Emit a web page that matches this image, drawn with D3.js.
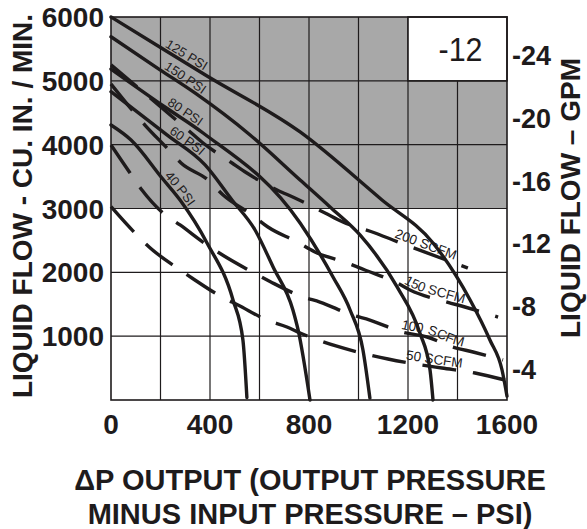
<!DOCTYPE html>
<html><head><meta charset="utf-8">
<script src="https://cdn.jsdelivr.net/npm/d3@7"></script>
<style>
html,body{margin:0;padding:0;background:#fff;}
svg text{font-family:"Liberation Sans",Arial,Helvetica,sans-serif;fill:#1e1b1c;}
</style></head>
<body>
<svg id="chart" width="587" height="529"></svg>
<script>
// ---- data ----
const psiTicks = [0, 400, 800, 1200, 1600];
const flowTicks = [1000, 2000, 3000, 4000, 5000, 6000];
const gpmTicks = [-4, -8, -12, -16, -20, -24];
const psiGrid = [200, 400, 600, 800, 1000, 1200, 1400];
const flowGrid = [1000, 2000, 3000, 4000, 5000];
const shadedFlow = [3000, 6000];
const sizeLabel = "-12";
const boxPsi = [1200, 1600];
const boxFlow = [5000, 6000];

const pressureNames = ["125 PSI", "150 PSI", "80 PSI", "60 PSI", "40 PSI"];
const pressureLabelPsi = [210, 206, 218, 226, 206];
const p125 = [[0,6000],[210,5499],[388,5076],[764,4199],[1095,3133],[1301,2460],[1451,1567],[1531,940],[1580,470],[1600,60]];
const p150 = [[0,5690],[198,5173],[339,4810],[562,4152],[764,3447],[885,3024],[1006,2585],[1156,1771],[1248,1050],[1289,470],[1301,0]];
const p80  = [[0,5185],[218,4590],[372,4183],[764,2773],[897,1927],[966,1410],[1018,783],[1046,30]];
const p60  = [[0,4830],[226,4152],[380,3682],[489,3133],[582,2663],[655,2084],[735,1410],[756,1097],[804,0]];
const p40  = [[0,4308],[81,4073],[206,3478],[279,3133],[388,2460],[493,1567],[533,940],[549,40]];
const pressureSeries = [p125, p150, p80, p60, p40];

const scfmNames = ["200 SCFM", "150 SCFM", "100 SCFM", "50 SCFM"];
const scfmLabelPsi = [1139, 1176, 1168, 1188];
const s200 = [[0,5250],[206,4575],[311,4230],[372,4026],[489,3713],[549,3556],[671,3290],[743,3165],[865,2930],[937,2789],[1067,2616],[1139,2507],[1442,2068]];
const s150 = [[0,4950],[85,4543],[137,4308],[230,3932],[283,3713],[392,3447],[453,3212],[570,2898],[634,2710],[752,2475],[824,2319],[954,2146],[1026,2037],[1156,1833],[1208,1723],[1358,1535],[1430,1457],[1564,1300]];
const s100 = [[0,3995],[77,3556],[125,3290],[210,2930],[279,2742],[388,2428],[457,2256],[578,1990],[646,1849],[776,1614],[844,1535],[974,1332],[1046,1253],[1176,1065],[1277,987],[1382,830],[1463,752],[1584,627]];
const s50  = [[0,3030],[97,2616],[154,2397],[267,2068],[327,1911],[448,1614],[513,1488],[630,1253],[711,1144],[764,1050],[909,846],[1046,705],[1119,642],[1257,548],[1337,501],[1471,423],[1592,313]];
const scfmSeries = [s200, s150, s100, s50];

const leftTitle = "LIQUID FLOW - CU. IN. / MIN.";
const rightTitle = "LIQUID FLOW \u2013 GPM";
const bottomTitle = ["\u0394P OUTPUT (OUTPUT PRESSURE", "MINUS INPUT PRESSURE \u2013 PSI)"];

// ---- layout ----
const svg = d3.select("#chart");
const x = d3.scaleLinear().domain([0, 1600]).range([111, 507]);
const y = d3.scaleLinear().domain([0, 6000]).range([400, 17]);
const yg = d3.scaleLinear().domain([-4, -24]).range([369, 55]);
const ink = "#1e1b1c";

// shaded region
svg.append("rect")
  .attr("x", x(0)).attr("y", y(shadedFlow[1]))
  .attr("width", x(1600) - x(0)).attr("height", y(shadedFlow[0]) - y(shadedFlow[1]))
  .attr("fill", "#a8a8a8");

// grid
const grid = svg.append("g").attr("stroke", ink).attr("stroke-width", 1.2);
grid.selectAll(".v").data(psiGrid).join("line")
  .attr("x1", d => x(d)).attr("x2", d => x(d)).attr("y1", y(0)).attr("y2", y(6000));
grid.selectAll(".h").data(flowGrid).join("line")
  .attr("x1", x(0)).attr("x2", x(1600)).attr("y1", d => y(d)).attr("y2", d => y(d));

// size box
svg.append("rect")
  .attr("x", x(boxPsi[0])).attr("y", y(boxFlow[1]))
  .attr("width", x(boxPsi[1]) - x(boxPsi[0])).attr("height", y(boxFlow[0]) - y(boxFlow[1]))
  .attr("fill", "#fff").attr("stroke", ink).attr("stroke-width", 1.6);
svg.append("text")
  .attr("x", (x(boxPsi[0]) + x(boxPsi[1])) / 2 + 3).attr("y", (y(boxFlow[0]) + y(boxFlow[1])) / 2 + 12)
  .attr("text-anchor", "middle").attr("font-size", 33).attr("font-weight", 500)
  .attr("textLength", 44).attr("lengthAdjust", "spacingAndGlyphs")
  .text(sizeLabel);

// frame
svg.append("rect")
  .attr("x", x(0)).attr("y", y(6000)).attr("width", x(1600) - x(0)).attr("height", y(0) - y(6000))
  .attr("fill", "none").attr("stroke", ink).attr("stroke-width", 1.6);

const line = d3.line().x(d => x(d[0])).y(d => y(d[1])).curve(d3.curveMonotoneX);

function lengthAtX(node, tx) {
  let lo = 0, hi = node.getTotalLength();
  for (let i = 0; i < 40; i++) {
    const mid = (lo + hi) / 2;
    if (node.getPointAtLength(mid).x < tx) lo = mid; else hi = mid;
  }
  return lo;
}

// pressure curves
pressureSeries.forEach((s, i) => {
  const p = svg.append("path").attr("id", "pc" + i).attr("d", line(s))
    .attr("fill", "none").attr("stroke", ink).attr("stroke-width", 3.4).attr("stroke-linecap", "round");
  const off = lengthAtX(p.node(), x(pressureLabelPsi[i]));
  svg.append("text").attr("font-size", 13).attr("dy", -3)
    .append("textPath").attr("href", "#pc" + i).attr("startOffset", off)
    .text(pressureNames[i]);
});

// scfm dashed lines
scfmSeries.forEach((s, i) => {
  const p = svg.append("path").attr("id", "sc" + i).attr("d", line(s))
    .attr("fill", "none").attr("stroke", ink).attr("stroke-width", 3.4)
    .attr("stroke-dasharray", "34,17");
  const off = lengthAtX(p.node(), x(scfmLabelPsi[i]));
  svg.append("text").attr("font-size", 13.5).attr("dy", -3)
    .append("textPath").attr("href", "#sc" + i).attr("startOffset", off)
    .text(scfmNames[i]);
});

// axes labels
svg.append("g").selectAll("text").data(flowTicks).join("text")
  .attr("x", 104).attr("y", d => y(d) + 10).attr("text-anchor", "end")
  .attr("font-size", 28).attr("font-weight", "bold").text(d => d);
svg.append("g").selectAll("text").data(psiTicks).join("text")
  .attr("x", d => x(d)).attr("y", 434).attr("text-anchor", "middle")
  .attr("font-size", 28).attr("font-weight", "bold").text(d => d);
svg.append("g").selectAll("text").data(gpmTicks).join("text")
  .attr("x", 512).attr("y", d => yg(d) + 10).attr("text-anchor", "start")
  .attr("font-size", 27).attr("font-weight", "bold").text(d => d);

// titles
svg.append("text").attr("transform", "translate(32,206) rotate(-90)")
  .attr("text-anchor", "middle").attr("font-size", 28).attr("font-weight", "bold").text(leftTitle);
svg.append("text").attr("transform", "translate(580,198) rotate(-90)")
  .attr("text-anchor", "middle").attr("font-size", 28).attr("font-weight", "bold").text(rightTitle);
svg.append("g").selectAll("text").data(bottomTitle).join("text")
  .attr("x", 310).attr("y", (d, i) => 490 + i * 34).attr("text-anchor", "middle")
  .attr("font-size", 29).attr("font-weight", "bold").text(d => d);
</script>
</body></html>
